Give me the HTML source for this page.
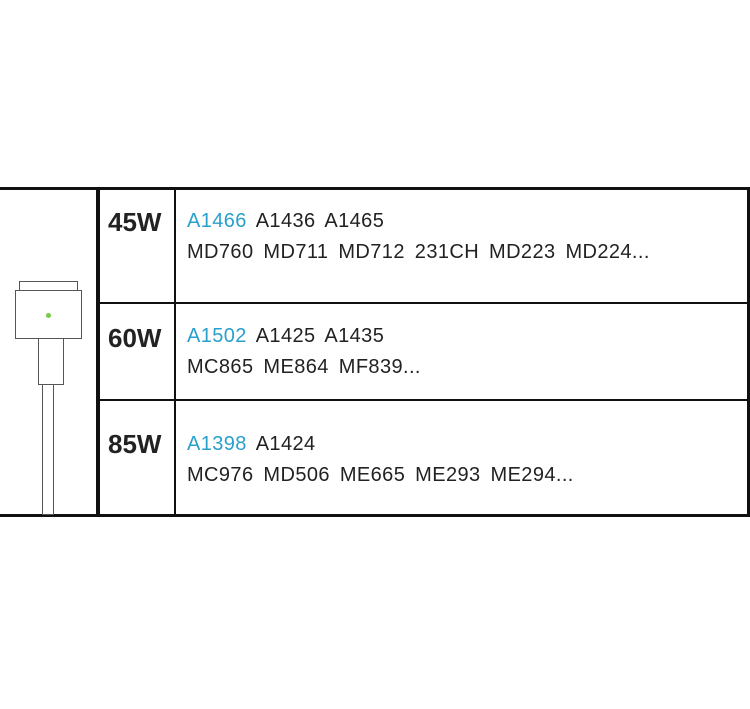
<!DOCTYPE html>
<html><head><style>
body{margin:0;width:750px;height:709px;background:#fff;position:relative;overflow:hidden;font-family:"Liberation Sans","Noto Sans CJK SC",sans-serif}
.a{position:absolute;background:#111}
.b{position:absolute;border:1.5px solid #555;background:#fff;box-sizing:border-box}
.w{position:absolute;left:108px;font-weight:bold;font-size:26px;color:#222}
.t{position:absolute;left:187px;font-size:20px;color:#222;line-height:31px;letter-spacing:0.4px;word-spacing:4px}
.t span{color:#2a9fcc}
</style></head><body>
<div class="a" style="left:0;top:187px;width:750px;height:3px"></div>
<div class="a" style="left:0;top:514px;width:750px;height:3px"></div>
<div class="a" style="left:96px;top:187px;width:4px;height:330px"></div>
<div class="a" style="left:174px;top:187px;width:2px;height:330px"></div>
<div class="a" style="left:747px;top:187px;width:3px;height:330px"></div>
<div class="a" style="left:98px;top:302px;width:652px;height:2px"></div>
<div class="a" style="left:98px;top:399px;width:652px;height:2px"></div>
<div class="b" style="left:19px;top:281px;width:59px;height:11px"></div>
<div class="b" style="left:15px;top:290px;width:67px;height:49px"></div>
<div class="b" style="left:38px;top:338px;width:26px;height:47px"></div>
<div class="b" style="left:42px;top:384px;width:12px;height:131px"></div>
<div style="position:absolute;left:46px;top:313px;width:5px;height:5px;border-radius:50%;background:#7c4"></div>
<div class="w" style="top:207px">45W</div>
<div class="w" style="top:323px">60W</div>
<div class="w" style="top:429px">85W</div>
<div class="t" style="top:206px"><span>A1466</span> A1436 A1465<br>MD760 MD711 MD712 231CH MD223 MD224...</div>
<div class="t" style="top:321px"><span>A1502</span> A1425 A1435<br>MC865 ME864 MF839...</div>
<div class="t" style="top:429px"><span>A1398</span> A1424<br>MC976 MD506 ME665 ME293 ME294...</div>
</body></html>
